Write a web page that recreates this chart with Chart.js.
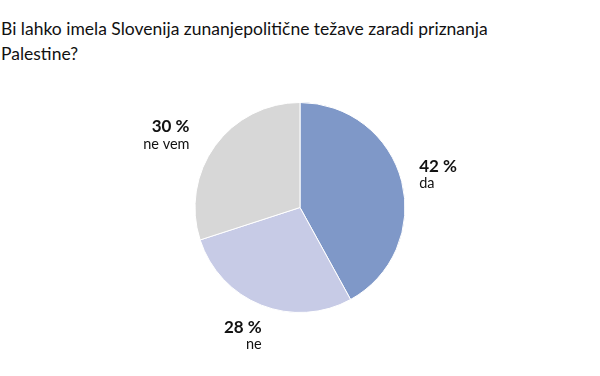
<!DOCTYPE html>
<html>
<head>
<meta charset="utf-8">
<script src="https://cdn.jsdelivr.net/npm/chart.js@4"></script>
<style>
  html, body { margin: 0; padding: 0; background: #fff; }
  #wrap { position: relative; width: 600px; height: 376px; }
  #title { position: absolute; left: 1px; top: 16px; width: 590px;
    font: 17.5px Lato, sans-serif; line-height: 25px; color: #111; }
  canvas { position: absolute; left: 0; top: 0; }
</style>
</head>
<body>
<div id="wrap">
  <div id="title">Bi lahko imela Slovenija zunanjepolitične težave zaradi priznanja<br>Palestine?</div>
  <canvas id="myChart" width="600" height="376"></canvas>
</div>
<script>
const labels = ['da', 'ne', 'ne vem'];
const values = [42, 28, 30];
const colors = ['#7f98c8', '#c7cbe6', '#d7d7d7'];

// small hand nudges so the outside labels sit where the original has them
const nudge = [[0, -5], [7, 11], [-11, -3]];

const outLabels = {
  id: 'outLabels',
  afterDraw(chart) {
    const ctx = chart.ctx;
    const meta = chart.getDatasetMeta(0);
    meta.data.forEach((arc, i) => {
      const mid = (arc.startAngle + arc.endAngle) / 2;
      const r = arc.outerRadius + 18;
      const x = arc.x + Math.cos(mid) * r + nudge[i][0];
      const y = arc.y + Math.sin(mid) * r + nudge[i][1];
      ctx.save();
      ctx.fillStyle = '#111';
      ctx.textAlign = Math.cos(mid) >= 0 ? 'left' : 'right';
      ctx.textBaseline = 'alphabetic';
      ctx.font = 'bold 17px Lato, sans-serif';
      ctx.fillText(values[i] + ' %', x, y);
      ctx.font = '14.5px Lato, sans-serif';
      ctx.fillText(labels[i], x, y + 16.5);
      ctx.restore();
    });
  }
};

new Chart(document.getElementById('myChart'), {
  type: 'pie',
  data: {
    labels: labels,
    datasets: [{
      data: values,
      backgroundColor: colors,
      borderColor: '#ffffff',
      borderWidth: 1
    }]
  },
  options: {
    responsive: false,
    animation: false,
    layout: { padding: { top: 102, bottom: 63, left: 150, right: 150 } },
    plugins: {
      legend: { display: false },
      tooltip: { enabled: false }
    }
  },
  plugins: [outLabels]
});
</script>
</body>
</html>
